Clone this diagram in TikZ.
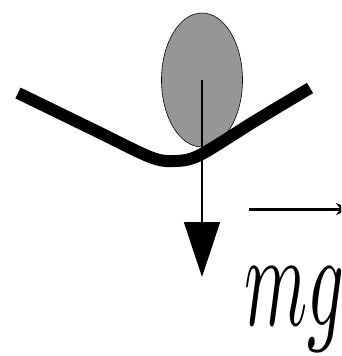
\documentclass[tikz,border=0pt]{standalone}
\usetikzlibrary{shapes.geometric, arrows.meta, positioning}
\definecolor{ballgray}{RGB}{150,150,150}
\begin{document}
\begin{tikzpicture}[x=1pt, y=-1pt]
	\useasboundingbox (0,0) rectangle (341,356);
	\clip (0,0) rectangle (341,356);
	% Ball
	\node[ellipse, draw, semithick, fill=ballgray, minimum width=81pt, minimum height=134pt, inner sep=0pt] (ball) at (202,80) {};
	
	% Bowl
	\draw[line width=12pt] plot[smooth, tension=0.5] coordinates {(18,93) (90,128) (150,157) (175,161) (200,155) (255,121) (310,88)};
	
	% Weight
	\coordinate (tip) at (202,277);
	\draw[line width=1.6pt, -{Triangle[length=55pt, width=36pt]}] (ball.center) -- (tip);
	
	% Label
	\node[anchor=base west, inner sep=0pt, xscale=7.2, yscale=13.5] (mg) at (243,325) {$mg$};
	\coordinate (vecstart) at (249,209);
	\coordinate (vecend) at (350,209);
	\draw[line width=3pt, -{Stealth[length=14pt, width=12pt]}] (vecstart) -- (vecend);
\end{tikzpicture}
\end{document}
